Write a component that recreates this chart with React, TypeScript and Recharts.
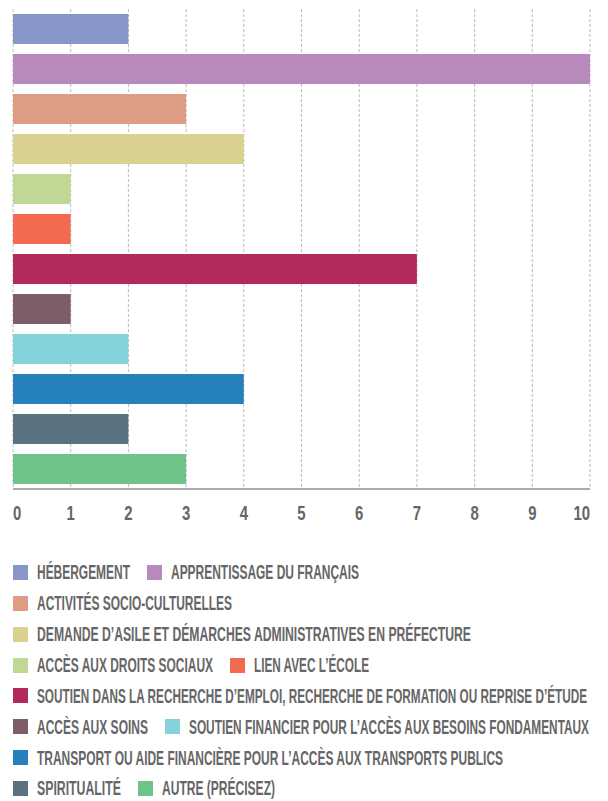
import React from "react";
import { Bar, BarChart, CartesianGrid, Cell, XAxis, YAxis } from "recharts";

// categories, top to bottom
const categories = [
  "HÉBERGEMENT",
  "APPRENTISSAGE DU FRANÇAIS",
  "ACTIVITÉS SOCIO-CULTURELLES",
  "DEMANDE D’ASILE ET DÉMARCHES ADMINISTRATIVES EN PRÉFECTURE",
  "ACCÈS AUX DROITS SOCIAUX",
  "LIEN AVEC L’ÉCOLE",
  "SOUTIEN DANS LA RECHERCHE D’EMPLOI, RECHERCHE DE FORMATION OU REPRISE D’ÉTUDE",
  "ACCÈS AUX SOINS",
  "SOUTIEN FINANCIER POUR L’ACCÈS AUX BESOINS FONDAMENTAUX",
  "TRANSPORT OU AIDE FINANCIÈRE POUR L’ACCÈS AUX TRANSPORTS PUBLICS",
  "SPIRITUALITÉ",
  "AUTRE (PRÉCISEZ)",
];

const values = [2, 10, 3, 4, 1, 1, 7, 1, 2, 4, 2, 3];

const xTicks = [0, 1, 2, 3, 4, 5, 6, 7, 8, 9, 10];

const palette = [
  "#8895c7",
  "#b889bc",
  "#de9c82",
  "#d9d18f",
  "#bfd895",
  "#f26b50",
  "#b2295b",
  "#7e5d6a",
  "#84d2db",
  "#2580bb",
  "#5a7180",
  "#6dc389",
];

// legend layout: which categories share a row, and the width each label takes
const legendRows = [[0, 1], [2], [3], [4, 5], [6], [7, 8], [9], [10, 11]];
const legendTextWidth = [93, 188, 195, 434, 176, 115, 550, 111, 400, 466, 84, 113];

const data = categories.map((name, i) => ({ name, value: values[i] }));

const FONT = "'Liberation Sans', Arial, sans-serif";
const TEXT = "#666";

function AxisTick(props: any) {
  const { x, y, payload } = props;
  const v = payload.value;
  const anchor = v === xTicks[0] ? "start" : v === xTicks[xTicks.length - 1] ? "end" : "middle";
  const label = String(v);
  return (
    <text
      x={x}
      y={y + 23}
      textAnchor={anchor}
      fontFamily={FONT}
      fontWeight="bold"
      fontSize={20}
      fill={TEXT}
      textLength={label.length * 8.3}
      lengthAdjust="spacingAndGlyphs"
    >
      {label}
    </text>
  );
}

function Legend() {
  return (
    <div style={{ position: "absolute", left: 13, top: 557 }}>
      {legendRows.map((row, r) => (
        <div key={r} style={{ display: "flex", alignItems: "center", height: 30.86 }}>
          {row.map((i) => (
            <div key={i} style={{ display: "flex", alignItems: "center", marginRight: 17 }}>
              <div style={{ width: 15, height: 15, background: palette[i], marginRight: 9 }} />
              <svg
                width={legendTextWidth[i]}
                height={26}
                style={{ display: "block", overflow: "visible" }}
              >
                <text
                  x={0}
                  y={20}
                  fontFamily={FONT}
                  fontWeight="bold"
                  fontSize={19.5}
                  fill={TEXT}
                  textLength={legendTextWidth[i]}
                  lengthAdjust="spacingAndGlyphs"
                >
                  {categories[i]}
                </text>
              </svg>
            </div>
          ))}
        </div>
      ))}
    </div>
  );
}

export default function App() {
  return (
    <div style={{ position: "absolute", left: 0, top: 0, width: 608, height: 801, background: "#fff" }}>
      <BarChart
        width={608}
        height={530}
        data={data}
        layout="vertical"
        margin={{ top: 9, right: 18, left: 13, bottom: 0 }}
      >
        <CartesianGrid horizontal={false} stroke="#bbb" strokeDasharray="3 2" />
        <XAxis
          type="number"
          domain={[0, 10]}
          ticks={xTicks}
          interval={0}
          height={41}
          axisLine={{ stroke: "#aaa", strokeWidth: 2 }}
          tickLine={false}
          tick={<AxisTick />}
        />
        <YAxis
          type="category"
          dataKey="name"
          width={0}
          tick={false}
          tickLine={false}
          axisLine={{ stroke: "#888" }}
        />
        <Bar dataKey="value" barSize={30} isAnimationActive={false}>
          {data.map((d, i) => (
            <Cell key={d.name} fill={palette[i]} />
          ))}
        </Bar>
      </BarChart>
      <Legend />
    </div>
  );
}
